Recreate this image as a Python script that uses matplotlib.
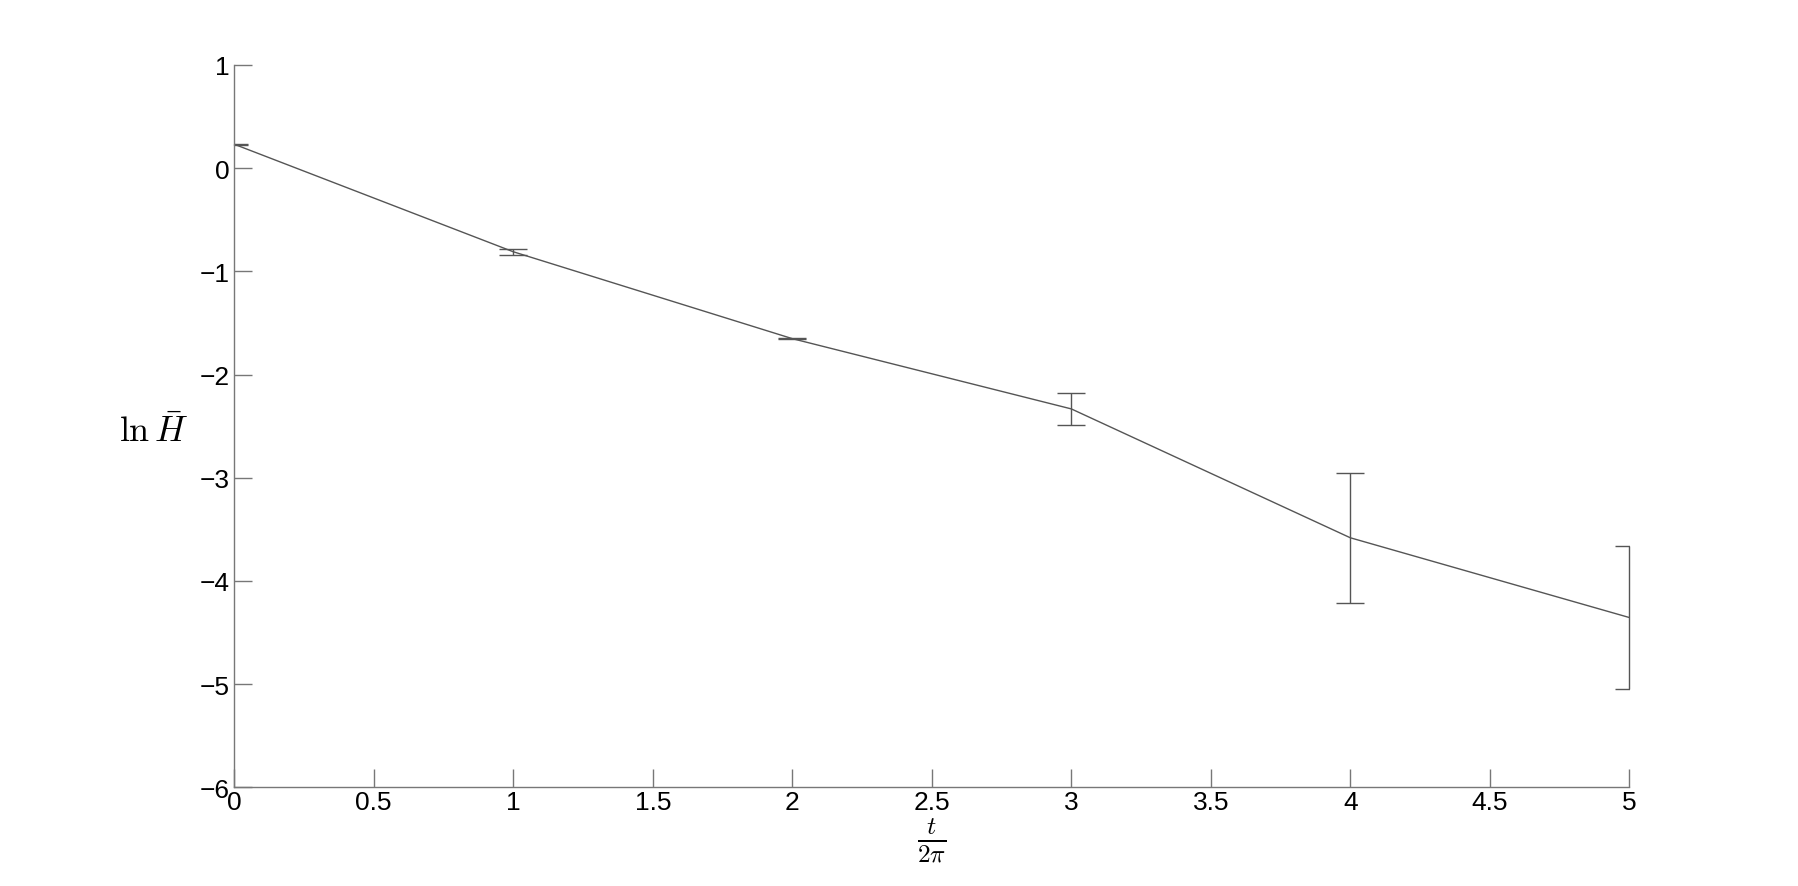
import matplotlib
matplotlib.use("Agg")
import matplotlib.pyplot as plt

plt.rcParams['font.family'] = ['Liberation Sans', 'DejaVu Sans']
plt.rcParams['mathtext.fontset'] = 'cm'

t_vals = [0, 1, 2, 3, 4, 5]
ln_H = [0.232, -0.81, -1.652, -2.333, -3.582, -4.355]
err = [0.005, 0.028, 0.006, 0.155, 0.629, 0.692]
x_ticks = [0, 0.5, 1, 1.5, 2, 2.5, 3, 3.5, 4, 4.5, 5]
x_tick_labels = ['0', '0.5', '1', '1.5', '2', '2.5', '3', '3.5', '4', '4.5', '5']
y_ticks = [-6, -5, -4, -3, -2, -1, 0, 1]
y_tick_labels = ['\u22126', '\u22125', '\u22124', '\u22123', '\u22122', '\u22121', '0', '1']

fig = plt.figure(figsize=(17.99, 8.87), dpi=100)
ax = fig.add_axes([0.1302, 0.1113, 0.7755, 0.8143])

line_col = '#555555'
cont = ax.errorbar(t_vals, ln_H, yerr=err, color=line_col, ecolor=line_col,
                   linewidth=1.0, elinewidth=1.0, capsize=10, capthick=1.0,
                   clip_on=True)
for coll in cont[2]:
    coll.set_clip_on(False)

ax.set_xlim(0, 5)
ax.set_ylim(-6, 1)
ax.set_xticks(x_ticks)
ax.set_xticklabels(x_tick_labels)
ax.set_yticks(y_ticks)
ax.set_yticklabels(y_tick_labels)

axis_col = '#777777'
for s in ['top', 'right']:
    ax.spines[s].set_visible(False)
for s in ['left', 'bottom']:
    ax.spines[s].set_color(axis_col)
    ax.spines[s].set_linewidth(1.0)
ax.tick_params(direction='in', length=13, width=1.0, color=axis_col,
               labelsize=19, labelcolor='black', pad=2)
ax.tick_params(axis='y', pad=3)

ax.set_ylabel(r'$\ln\bar{H}$', fontsize=26, rotation=0, va='center')
ax.yaxis.set_label_coords(-0.058, 0.492)
ax.set_xlabel(r'$\frac{t}{2\pi}$', fontsize=26, labelpad=1)

fig.savefig('out.png', dpi=100)
